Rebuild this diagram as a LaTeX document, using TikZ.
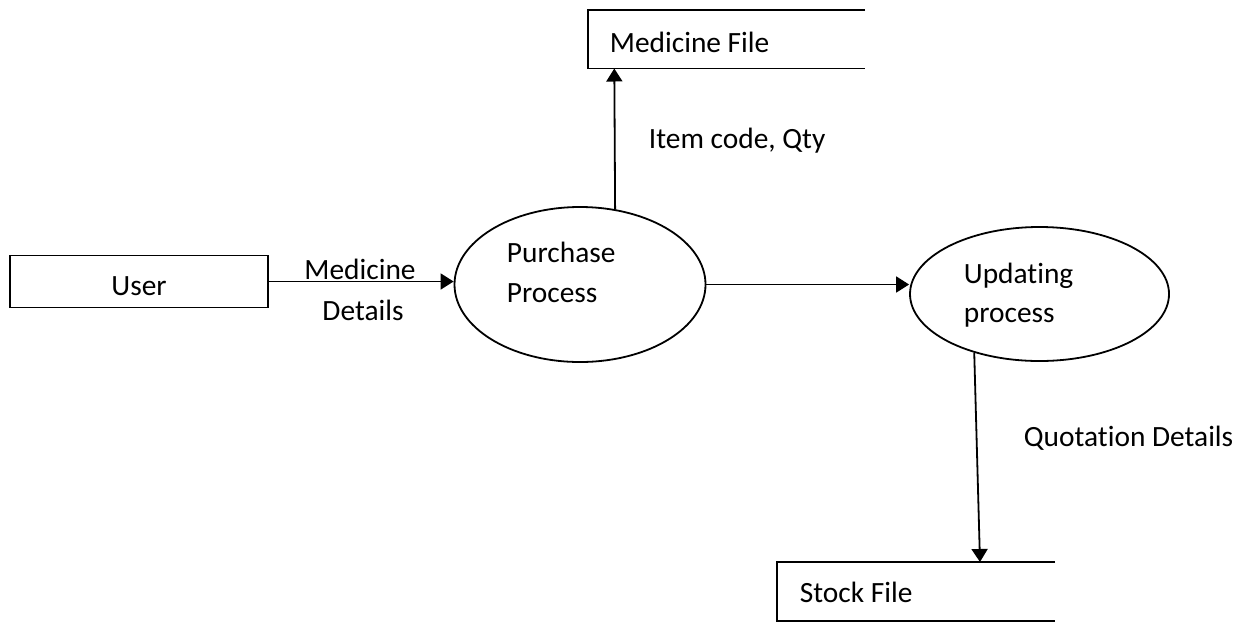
\documentclass[tikz,border=0pt]{standalone}
\usepackage{fontspec}
\setmainfont{Carlito}[RawFeature=-liga]
\usetikzlibrary{shapes.geometric,arrows.meta}
\begin{document}
\begin{tikzpicture}[x=0.5pt,y=-0.5pt,
  line width=0.9pt,
  txt/.style={inner sep=0pt,font=\fontsize{14.7}{20.5}\selectfont},
  flow/.style={draw,-{Triangle[length=6.5pt,width=8pt]}},
  proc/.style={draw,ellipse,inner sep=0pt},
  ent/.style={draw,rectangle,inner sep=0pt,minimum width=129pt,minimum height=26pt,text height=13.5pt,text depth=0pt,font=\fontsize{14.7}{20.5}\selectfont}]
\useasboundingbox (0,0) rectangle (1251,622);
% entity
\node[ent] (user) at (139,281.5) {User};
% processes
\node[proc,minimum width=125.5pt,minimum height=77.5pt] (pp) at (580,284.5) {};
\node[proc,minimum width=129.5pt,minimum height=67pt] (up) at (1039.5,294) {};
\node[txt,anchor=base west] (pptxt1) at (506,262.7) {Purchase};
\node[txt,anchor=base west] (pptxt2) at (506,302.7) {Process};
\node[txt,anchor=base west] (uptxt1) at (963,283) {Updating};
\node[txt,anchor=base west] (uptxt2) at (963,322) {process};
% data stores (open on the right)
\coordinate (mfa) at (865,10);
\coordinate (mfb) at (588,10);
\coordinate (mfc) at (588,68.5);
\coordinate (mfd) at (865,68.5);
\draw (mfa) -- (mfb) -- (mfc) -- (mfd);
\node[txt,anchor=base west] (mf) at (609,52) {Medicine File};
\coordinate (sfa) at (1055,562);
\coordinate (sfb) at (777,562);
\coordinate (sfc) at (777,621);
\coordinate (sfd) at (1055,621);
\draw (sfa) -- (sfb) -- (sfc) -- (sfd);
\node[txt,anchor=base west] (sf) at (799,602) {Stock File};
% flows
\coordinate (mfin) at (614.3,68.5);
\coordinate (sfin) at (980,562);
\draw[flow] (user.east) -- (user.east -| pp.west);
\draw[flow] (pp.east) -- (up.west |- pp.east);
\draw[flow] (pp.65.5) -- (mfin);
\draw[flow] (up.222.6) -- (sfin);
% flow labels
\node[txt,anchor=base] (lbl1a) at (360,279) {Medicine};
\node[txt,anchor=base] (lbl1b) at (363,320) {Details};
\node[txt,anchor=base west] (lbl2) at (648,148) {Item code, Qty};
\node[txt,anchor=base west] (lbl3) at (1023,446) {Quotation Details};
\end{tikzpicture}
\end{document}
